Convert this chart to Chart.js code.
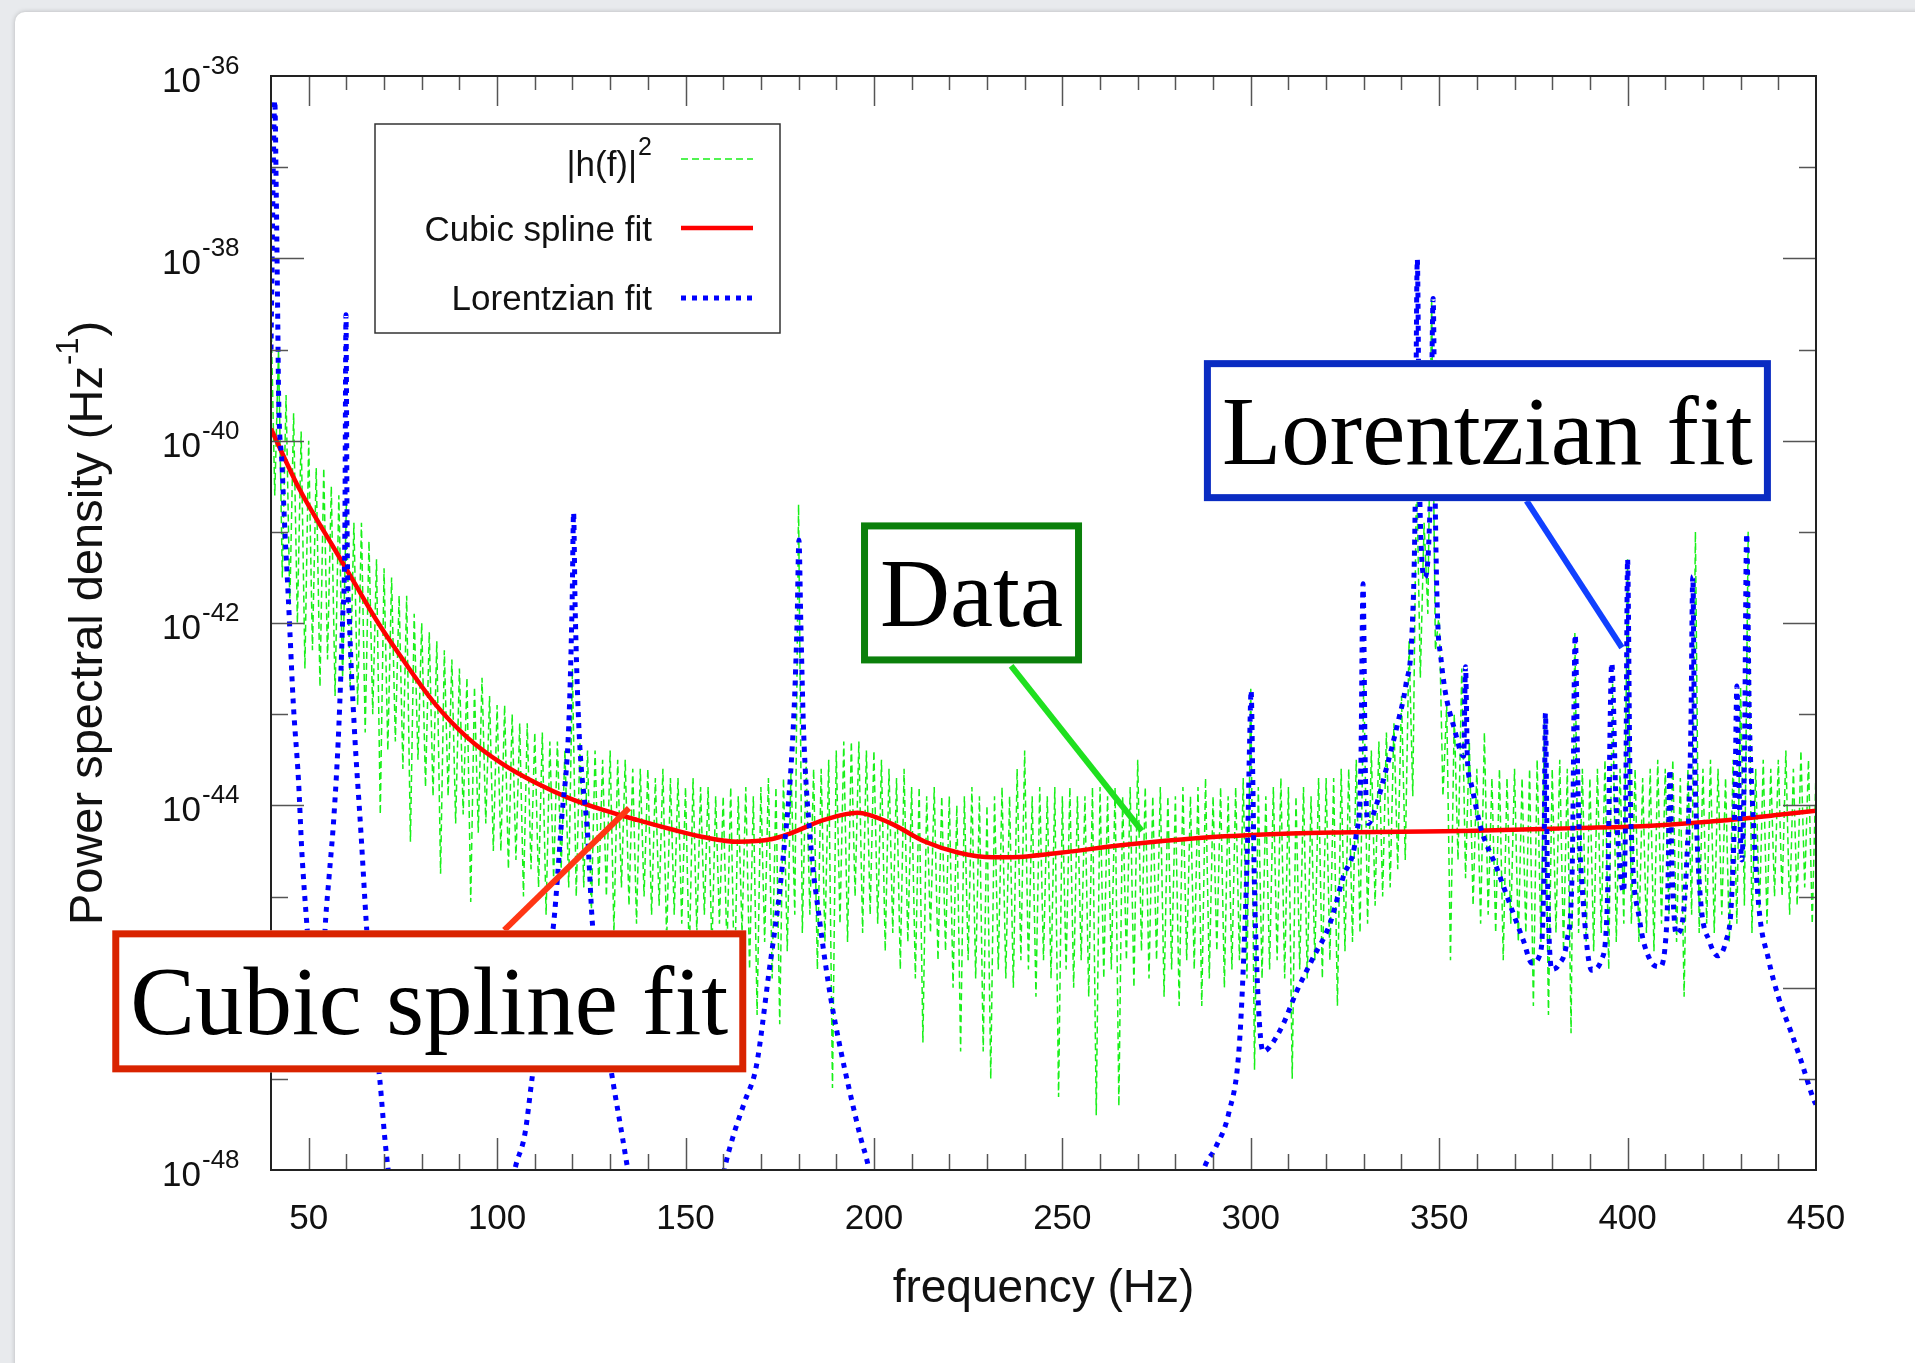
<!DOCTYPE html>
<html>
<head>
<meta charset="utf-8">
<script src="https://cdn.jsdelivr.net/npm/chart.js@4.4.0/dist/chart.umd.min.js"></script>
<style>
  body { margin: 0; background: #e8eaed; overflow: hidden; }
  .card { position: absolute; left: 15px; top: 12px; width: 1915px; height: 1363px; background: #fff;
          border-radius: 10px; box-shadow: 0 0 5px rgba(0, 0, 0, 0.22); }
  #psd { position: absolute; left: 0; top: 0; }
</style>
</head>
<body>
<div class="card"></div>
<canvas id="psd" width="1915" height="1363"></canvas>
<script>
// values are log10 of the PSD (Hz^-1)
const xTickHz = [50, 100, 150, 200, 250, 300, 350, 400, 450];
const yTickExp = [-36, -38, -40, -42, -44, -46, -48];

// |h(f)|^2 : per 2 Hz bin, the top of the scatter and the bottom of the scatter
const dataHigh = [
  -38.6, -39.0, -39.5, -39.7, -39.9, -40.0, -40.3, -40.3, -40.5, -40.6,
  -40.7, -40.9, -40.9, -41.1, -41.3, -41.4, -41.5, -41.7, -41.7, -41.9,
  -42.0, -42.1, -42.2, -42.3, -42.4, -42.5, -42.6, -42.7, -42.6, -42.8,
  -42.9, -42.9, -43.0, -43.1, -43.1, -43.2, -43.2, -43.3, -43.3, -43.4,
  -42.5, -43.3, -43.4, -43.4, -43.5, -43.4, -43.5, -43.5, -43.6, -43.6,
  -43.6, -43.7, -43.6, -43.7, -43.7, -43.8, -43.7, -43.8, -43.8, -43.9,
  -43.9, -43.8, -43.9, -43.8, -43.9, -43.8, -43.7, -43.8, -43.7, -43.6,
  -40.7, -43.5, -43.6, -43.6, -43.5, -43.4, -43.3, -43.3, -43.3, -43.4,
  -43.4, -43.5, -43.6, -43.7, -43.6, -43.8, -43.8, -43.9, -43.8, -43.9,
  -43.9, -44.0, -43.9, -43.8, -43.9, -44.0, -43.9, -43.8, -43.9, -43.6,
  -43.4, -43.9, -43.8, -43.9, -43.8, -43.9, -43.8, -43.9, -43.9, -43.8,
  -43.8, -43.9, -43.8, -43.9, -43.8, -43.5, -43.8, -43.9, -43.8, -43.9,
  -43.9, -43.8, -43.9, -43.8, -43.7, -43.9, -43.8, -43.9, -43.8, -43.7,
  -42.7, -43.8, -43.9, -43.8, -43.7, -43.8, -43.9, -43.8, -43.9, -43.7,
  -43.7, -43.7, -43.6, -43.6, -43.5, -42.6, -43.4, -43.3, -43.2, -43.1,
  -42.8, -42.2, -40.3, -40.9, -38.45, -41.9, -42.9, -43.0, -42.5, -43.3,
  -43.6, -43.2, -43.7, -43.6, -43.7, -43.6, -43.7, -43.6, -43.5, -43.0,
  -43.6, -43.5, -43.6, -42.1, -43.6, -43.7, -43.6, -43.5, -42.6, -43.6,
  -41.3, -43.6, -43.7, -43.6, -43.5, -43.6, -43.5, -43.7, -43.6, -41.0,
  -43.6, -43.5, -43.6, -43.7, -43.5, -42.7, -41.0, -43.6, -43.5, -43.6,
  -43.5, -43.4, -43.6, -43.4, -43.5, -43.6
];
const dataLow = [
  -40.6, -41.5, -41.8, -42.0, -42.5, -42.3, -42.7, -42.4, -42.8, -42.6,
  -42.7, -42.9, -43.2, -43.0, -44.1, -43.4, -43.3, -43.6, -44.4, -43.5,
  -43.8, -43.9, -44.75, -43.9, -44.2, -44.1, -45.06, -44.3, -44.2, -44.5,
  -44.5, -44.7, -44.6, -45.0, -44.7, -44.9, -45.2, -44.8, -44.7, -44.9,
  -45.0, -44.9, -45.2, -44.9, -45.0, -45.4, -44.9, -45.1, -45.3, -45.0,
  -45.2, -45.1, -45.5, -45.2, -45.3, -45.7, -45.4, -45.2, -45.6, -45.3,
  -45.6, -46.0, -45.4, -45.8, -46.3, -45.5, -45.9, -46.4, -45.6, -45.2,
  -45.4, -45.2, -45.8, -45.5, -47.1, -45.3, -45.5, -45.0, -45.4, -45.2,
  -45.3, -45.6, -45.4, -45.8, -45.5, -45.9, -46.6, -45.4, -45.7, -45.6,
  -46.0, -46.7, -45.7, -45.9, -46.7, -47.0, -45.8, -45.9, -46.0, -45.7,
  -45.8, -46.1, -45.7, -45.9, -47.2, -45.8, -46.0, -45.7, -46.1, -47.4,
  -45.9, -45.8, -47.3, -45.7, -46.0, -45.6, -45.9, -45.7, -46.1, -45.8,
  -46.2, -45.7, -45.8, -46.2, -45.9, -45.6, -46.0, -45.8, -45.7, -45.9,
  -46.9, -45.9, -45.8, -45.7, -45.9, -47.0, -45.8, -45.9, -45.7, -45.9,
  -45.7, -46.2, -45.6, -45.5, -45.4, -45.3, -45.1, -45.0, -44.9, -44.7,
  -44.6, -43.9, -42.6, -41.9, -42.3, -43.9, -45.7, -44.6, -44.8, -45.1,
  -45.3, -45.2, -45.4, -45.7, -45.3, -45.5, -45.4, -46.2, -45.5, -46.3,
  -45.4, -45.6, -46.5, -45.4, -45.5, -45.6, -45.4, -45.8, -45.5, -45.3,
  -45.3, -45.5, -45.4, -45.6, -45.3, -45.2, -45.5, -46.1, -45.2, -45.4,
  -45.3, -45.4, -45.2, -45.5, -45.3, -45.1, -45.4, -45.2, -45.3, -45.0,
  -45.0, -45.2, -45.1, -44.9, -45.3, -45.0
];

// cubic spline fit
const splineHz = [40, 47.4, 56.3, 62, 68, 74.3, 83.2, 92.2, 101.2, 110.1, 119.1, 128.1, 137.1, 146,
  155, 164, 173, 177.7, 186.7, 195.6, 204.6, 213.6, 222.5, 231.5, 240.5, 249.4, 267.4, 285.4, 303.3,
  318.3, 359.7, 386.1, 403.7, 421.3, 438.9, 450];
const splineLog = [-39.87, -40.52, -41.15, -41.55, -41.97, -42.36, -42.87, -43.26, -43.54, -43.75,
  -43.92, -44.05, -44.16, -44.26, -44.35, -44.40, -44.37, -44.31, -44.16, -44.08, -44.20, -44.40, -44.52,
  -44.57, -44.56, -44.52, -44.43, -44.36, -44.32, -44.30, -44.28, -44.25, -44.23, -44.18, -44.11, -44.06];

// Lorentzian fit (runs below 1e-48 between the lines)
const lorentzHz = [40.0, 40.3, 40.6, 41.0, 41.4, 41.8, 42.0, 42.9, 43.7, 44.6, 45.0, 45.9, 47.3, 48.2, 49.5,
  51.0, 52.5, 53.8, 54.5, 55.4, 56.7, 58.0, 59.0, 59.6, 59.9, 60.2, 60.8, 62.1, 63.9, 65.3, 67.0, 68.9,
  70.2, 71.1, 74, 80, 90, 98, 102, 104.7, 107.4, 109.2, 112, 115, 117.2, 119.0, 119.9, 120.3, 120.7,
  121.7, 124, 125.3, 128, 130.7, 133.3, 134.7, 138, 148, 157, 160.3, 162.5, 165.7, 168.8, 172, 175.6,
  178.6, 179.6, 180.1, 180.6, 181.3, 183, 185.7, 188.4, 191.1, 193.8, 196.5, 198.3, 200, 215, 245, 275,
  284, 287.5, 290.6, 294.2, 296.9, 298.3, 299.2, 299.7, 300.1, 300.5, 300.9, 301.9, 303.3, 305.0, 308.6,
  312.2, 316.2, 321, 324.5, 328.0, 329.2, 329.8, 330.4, 331.2, 333.3, 335.9, 339.0, 341.2, 342.8, 343.6,
  344.2, 344.8, 346.2, 347.7, 348.4, 349.0, 349.6, 350.4, 351.6, 353.9, 356.5, 357.0, 357.5, 358.3, 361.0,
  365.4, 368.9, 372.4, 374.6, 376.9, 377.8, 378.2, 378.7, 379.9, 381.7, 383.9, 385.3, 386.1, 386.9, 388.3,
  390.5, 393.1, 394.6, 395.8, 396.9, 398.0, 398.9, 399.5, 400.0, 400.6, 401.0, 403.2, 405.9, 408.5, 409.9,
  410.7, 411.2, 411.8, 412.9, 414.3, 415.6, 416.8, 417.3, 417.8, 418.4, 419.5, 421.7, 423.9, 426.1, 427.5,
  428.5, 429.0, 429.6, 430.3, 431.0, 431.6, 432.3, 433.1, 434.8, 437.4, 440.0, 443.5, 446.1, 449.6, 450];
const lorentzLog = [-39.0, -38.0, -37.0, -36.27, -37.3, -38.7, -39.46, -40.25, -41.0, -41.73, -42.08, -42.87,
  -43.73, -44.52, -45.3, -46.1, -46.4, -45.8, -45.25, -44.79, -44.12, -43.14, -41.97, -41.0, -38.62, -41.0,
  -41.97, -43.14, -44.32, -45.3, -46.3, -47.02, -47.65, -48.0, -48.8, -49.6, -50.0, -49.5, -48.7, -48.0,
  -47.6, -47.02, -46.1, -45.3, -44.12, -43.14, -41.8, -40.79, -41.8, -43.14, -44.32, -45.3, -46.3, -47.02,
  -47.65, -48.0, -48.8, -49.5, -48.8, -48.0, -47.65, -47.25, -46.86, -45.88, -44.7, -43.14, -42.0, -41.09,
  -42.0, -43.14, -44.32, -45.3, -46.08, -46.67, -47.18, -47.65, -47.92, -48.3, -49.8, -50.5, -49.8, -48.7,
  -48.0, -47.76, -47.37, -46.67, -45.49, -44.32, -43.3, -42.74, -43.6, -44.7, -46.08, -46.7, -46.65, -46.4,
  -46.04, -45.7, -45.3, -44.79, -44.32, -43.6, -41.57, -43.6, -44.2, -44.0, -43.61, -43.1, -42.67, -42.09,
  -40.8, -38.01, -40.5, -41.5, -40.5, -38.44, -40.8, -41.97, -42.36, -42.75, -43.14, -43.46, -42.48, -43.5,
  -43.73, -44.24, -44.7, -45.1, -45.49, -45.73, -45.61, -44.7, -42.99, -44.7, -45.8, -45.75, -45.49, -44.7,
  -42.13, -43.93, -45.1, -45.81, -45.69, -45.1, -42.44, -43.93, -44.7, -44.95, -44.0, -41.3, -43.6, -44.32,
  -45.26, -45.69, -45.77, -45.57, -44.9, -43.61, -44.7, -45.41, -45.33, -44.7, -43.14, -41.49, -43.4, -44.32,
  -45.1, -45.49, -45.65, -45.49, -45.1, -43.9, -42.69, -43.8, -44.6, -43.5, -41.02, -43.0, -43.93, -45.1,
  -45.69, -46.1, -46.5, -46.81, -47.25, -47.28];

// ---- tables for the library ----
const dataPts = [];
dataHigh.forEach((v, i) => {
  const hz = 40 + 2 * i;
  dataPts.push({ x: hz, y: v });
  dataPts.push({ x: hz + 1, y: dataLow[i] });
});
const splinePts = splineHz.map((hz, i) => ({ x: hz, y: splineLog[i] }));
const lorentzPts = lorentzHz.map((hz, i) => ({ x: hz, y: lorentzLog[i] }));

const SANS = '"Liberation Sans", Arial, Helvetica, sans-serif';
const SERIF = '"Liberation Serif", "Times New Roman", serif';

const callouts = [
  { text: 'Lorentzian fit', at: [362.8, -39.89], w: 567, h: 141, edge: '#0a2cc2', lead: '#1040ff',
    from: [373.2, -40.66], to: [398.5, -42.27] },
  { text: 'Data', at: [225.9, -41.67], w: 221, h: 141, edge: '#0b800b', lead: '#1fe01f',
    from: [236.4, -42.47], to: [271.1, -44.28] },
  { text: 'Cubic spline fit', at: [82.0, -46.15], w: 634, h: 142, edge: '#d92300', lead: '#ff3614',
    from: [101.9, -45.37], to: [135.0, -44.03] }
];

function line(ctx, x1, y1, x2, y2) {
  ctx.beginPath(); ctx.moveTo(x1, y1); ctx.lineTo(x2, y2); ctx.stroke();
}

const decor = {
  id: 'decor',
  afterDraw(chart) {
    const { ctx, chartArea: a, scales: { x, y } } = chart;
    ctx.save();

    // inward ticks on all four sides
    ctx.strokeStyle = '#555';
    ctx.lineWidth = 1.5;
    for (let hz = 50; hz < 450; hz += 10) {
      const px = Math.round(x.getPixelForValue(hz)) + 0.5;
      const major = hz % 50 === 0;
      line(ctx, px, a.bottom, px, a.bottom - (major ? 32 : 16));
      line(ctx, px, a.top, px, a.top + (major ? 30 : 14));
    }
    for (let e = -47; e < -36; e++) {
      const py = Math.round(y.getPixelForValue(e)) + 0.5;
      const len = e % 2 === 0 ? 33 : 17;
      line(ctx, a.left, py, a.left + len, py);
      line(ctx, a.right, py, a.right - len, py);
    }
    ctx.strokeStyle = '#222';
    ctx.lineWidth = 2;
    ctx.strokeRect(a.left, a.top, a.right - a.left, a.bottom - a.top);

    // y tick labels 10^n
    ctx.fillStyle = '#111';
    yTickExp.forEach(e => {
      const py = y.getPixelForValue(e);
      ctx.font = '35px ' + SANS;
      ctx.textAlign = 'right';
      ctx.textBaseline = 'alphabetic';
      ctx.fillText('10', 201, py + 16);
      ctx.font = '26px ' + SANS;
      ctx.textAlign = 'left';
      ctx.fillText(String(e), 202, py - 2);
    });

    // y axis title with superscript
    ctx.save();
    ctx.translate(85, (a.top + a.bottom) / 2);
    ctx.rotate(-Math.PI / 2);
    ctx.textAlign = 'left';
    ctx.textBaseline = 'alphabetic';
    const t1 = 'Power spectral density (Hz', t2 = '-1', t3 = ')';
    ctx.font = '47px ' + SANS;
    const w1 = ctx.measureText(t1).width, w3 = ctx.measureText(t3).width;
    ctx.font = '31px ' + SANS;
    const w2 = ctx.measureText(t2).width;
    const sx = -(w1 + w2 + w3 + 2) / 2;
    ctx.font = '47px ' + SANS;
    ctx.fillText(t1, sx, 17);
    ctx.font = '31px ' + SANS;
    ctx.fillText(t2, sx + w1 + 1, -7);
    ctx.font = '47px ' + SANS;
    ctx.fillText(t3, sx + w1 + w2 + 2, 17);
    ctx.restore();

    // callout boxes with leader lines
    callouts.forEach(c => {
      ctx.strokeStyle = c.lead;
      ctx.lineWidth = 6;
      ctx.lineCap = 'butt';
      line(ctx, x.getPixelForValue(c.from[0]), y.getPixelForValue(c.from[1]),
        x.getPixelForValue(c.to[0]), y.getPixelForValue(c.to[1]));
      const cx = x.getPixelForValue(c.at[0]), cy = y.getPixelForValue(c.at[1]);
      const lw = 7;
      ctx.fillStyle = '#fff';
      ctx.fillRect(cx - c.w / 2, cy - c.h / 2, c.w, c.h);
      ctx.strokeStyle = c.edge;
      ctx.lineWidth = lw;
      ctx.strokeRect(cx - c.w / 2 + lw / 2, cy - c.h / 2 + lw / 2, c.w - lw, c.h - lw);
      ctx.fillStyle = '#000';
      ctx.font = '97px ' + SERIF;
      ctx.textAlign = 'center';
      ctx.textBaseline = 'alphabetic';
      ctx.fillText(c.text, cx, cy + 33);
    });

    // key
    ctx.fillStyle = '#fff';
    ctx.fillRect(375, 124, 405, 209);
    ctx.strokeStyle = '#333';
    ctx.lineWidth = 1.5;
    ctx.strokeRect(375, 124, 405, 209);
    const sets = chart.data.datasets;
    const rows = [
      { ds: sets[2], y: 159, base: 176 },
      { ds: sets[1], y: 228, base: 241 },
      { ds: sets[0], y: 298, base: 310 }
    ];
    ctx.fillStyle = '#111';
    ctx.textBaseline = 'alphabetic';
    rows.forEach((r, i) => {
      ctx.textAlign = 'right';
      if (i === 0) {
        ctx.font = '25px ' + SANS;
        ctx.fillText('2', 652, r.base - 21);
        const ws = ctx.measureText('2').width;
        ctx.font = '35px ' + SANS;
        ctx.fillText('|h(f)|', 652 - ws - 1, r.base);
      } else {
        ctx.font = '35px ' + SANS;
        ctx.fillText(r.ds.label, 652, r.base);
      }
      ctx.strokeStyle = r.ds.borderColor;
      ctx.lineWidth = r.ds.borderWidth;
      ctx.setLineDash(r.ds.borderDash || []);
      line(ctx, 681, r.y, 753, r.y);
      ctx.setLineDash([]);
    });

    ctx.restore();
  }
};

new Chart(document.getElementById('psd'), {
  type: 'line',
  data: {
    datasets: [
      { label: 'Lorentzian fit', data: lorentzPts, borderColor: '#0000ff', borderWidth: 5,
        borderDash: [5, 6], pointRadius: 0, cubicInterpolationMode: 'monotone', order: 0, clip: 0 },
      { label: 'Cubic spline fit', data: splinePts, borderColor: '#ff0000', borderWidth: 4.5,
        pointRadius: 0, cubicInterpolationMode: 'monotone', order: 1, clip: 0 },
      { label: '|h(f)|^2', data: dataPts, borderColor: '#18f018', borderWidth: 1.5,
        borderDash: [7, 4], pointRadius: 0, order: 2, clip: 0 }
    ]
  },
  options: {
    responsive: false,
    animation: false,
    devicePixelRatio: 1,
    layout: { padding: { left: 0, right: 99, top: 76, bottom: 0 } },
    plugins: { legend: { display: false }, tooltip: { enabled: false } },
    scales: {
      x: {
        type: 'linear', min: 40, max: 450,
        afterBuildTicks: s => { s.ticks = xTickHz.map(v => ({ value: v })); },
        afterFit: s => { s.height = 193; },
        grid: { display: false, drawTicks: false },
        border: { display: false },
        ticks: { font: { family: SANS, size: 35 }, color: '#111', padding: 28, maxRotation: 0, autoSkip: false },
        title: { display: true, text: 'frequency (Hz)', color: '#111',
                 font: { family: SANS, size: 46 }, padding: { top: 0, bottom: 46 } }
      },
      y: {
        type: 'linear', min: -48, max: -36,
        afterFit: s => { s.width = 271; },
        grid: { display: false, drawTicks: false },
        border: { display: false },
        ticks: { display: false }
      }
    }
  },
  plugins: [decor]
});
</script>
</body>
</html>
